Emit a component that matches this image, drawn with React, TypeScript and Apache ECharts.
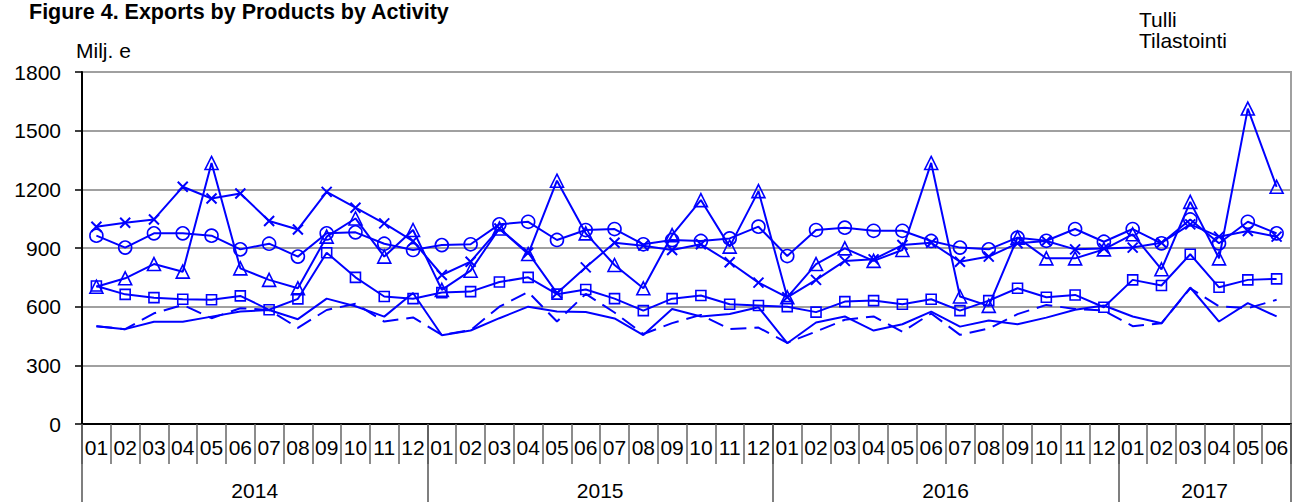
import React, { useEffect, useRef } from 'react';
import * as echarts from 'echarts';

const months = [
  '01','02','03','04','05','06','07','08','09','10','11','12',
  '01','02','03','04','05','06','07','08','09','10','11','12',
  '01','02','03','04','05','06','07','08','09','10','11','12',
  '01','02','03','04','05','06',
];
const years = ['2014', '2015', '2016', '2017'];
const yearSpans = [12, 12, 12, 6];
const yTicks = { min: 0, max: 1800, interval: 300 };

const triangleSeries = [702, 745, 818, 779, 1335, 796, 737, 694, 958, 1051, 856, 992,
  686, 784, 1000, 869, 1244, 975, 813, 694, 966, 1145, 907, 1191,
  648, 818, 898, 834, 890, 1335, 652, 604, 953, 847, 847, 893,
  970, 791, 1136, 847, 1613, 1213];
const circleSeries = [963, 902, 975, 975, 963, 893, 922, 856, 975, 980, 922, 890,
  915, 919, 1021, 1034, 941, 992, 997, 919, 941, 936, 949, 1009,
  859, 992, 1004, 988, 988, 936, 902, 893, 953, 937, 997, 932,
  997, 924, 1046, 924, 1034, 975];
const crossSeries = [1009, 1029, 1046, 1213, 1153, 1179, 1038, 995, 1187, 1106, 1026, 935,
  762, 830, 1000, 876, 669, 801, 927, 912, 890, 919, 827, 723,
  648, 737, 834, 842, 915, 927, 830, 856, 924, 936, 893, 898,
  902, 927, 1021, 958, 987, 958];
const squareSeries = [706, 663, 646, 638, 635, 655, 584, 640, 876, 750, 652, 641,
  672, 677, 726, 750, 664, 688, 641, 580, 641, 657, 612, 606,
  600, 572, 626, 631, 612, 638, 580, 631, 694, 648, 660, 597,
  737, 708, 868, 699, 737, 742];
const solidSeries = [500, 485, 523, 523, 549, 575, 583, 536, 641, 602, 549, 670,
  454, 478, 541, 600, 575, 573, 540, 455, 588, 550, 563, 597,
  413, 519, 550, 478, 510, 575, 498, 529, 510, 544, 584, 606,
  550, 515, 698, 524, 618, 550];
const dashedSeries = [500, 485, 566, 609, 541, 592, 583, 492, 583, 615, 524, 545,
  456, 480, 600, 675, 524, 665, 570, 460, 516, 558, 485, 493,
  415, 473, 533, 550, 472, 565, 456, 488, 562, 609, 588, 580,
  500, 515, 694, 602, 592, 635];

const BLUE = '#0000ff';
const FONT = '"Liberation Sans", Arial, Helvetica, sans-serif';

function buildYearAxis() {
  const total = yearSpans.reduce((a, b) => a + b, 0);
  const slots: string[] = Array.from({ length: total * 2 + 1 }, () => '');
  const bounds: number[] = [0];
  let acc = 0;
  years.forEach((y, i) => {
    slots[acc * 2 + yearSpans[i]] = y;
    acc += yearSpans[i];
    bounds.push(acc * 2);
  });
  return { slots, bounds };
}

export default function App() {
  const ref = useRef<HTMLDivElement>(null);
  useEffect(() => {
    if (!ref.current) return;
    const chart = echarts.init(ref.current, undefined, { renderer: 'svg' });
    const { slots, bounds } = buildYearAxis();
    const markerStyle = { color: 'rgba(0,0,0,0)', borderColor: BLUE, borderWidth: 1.6 };
    const baseLine = (name: string, data: number[], extra: any) => ({
      name,
      type: 'line',
      xAxisIndex: 0,
      data,
      showSymbol: true,
      showAllSymbol: true,
      lineStyle: { color: BLUE, width: 2 },
      itemStyle: markerStyle,
      emphasis: { disabled: true },
      ...extra,
    });
    chart.setOption({
      animation: false,
      grid: {
        left: 82, right: 4, top: 72, bottom: 79,
        show: true, borderColor: '#a0a0a0', borderWidth: 2, backgroundColor: 'transparent',
      },
      graphic: [
        { type: 'text', x: 29, y: 12, style: { text: 'Figure 4. Exports by Products by Activity', font: `bold 21.5px ${FONT}`, fill: '#000', verticalAlign: 'middle' } },
        { type: 'text', x: 76, y: 50, style: { text: 'Milj. e', font: `21px ${FONT}`, fill: '#000', verticalAlign: 'middle' } },
        { type: 'text', x: 1139, y: 19, style: { text: 'Tulli', font: `21px ${FONT}`, fill: '#000', verticalAlign: 'middle' } },
        { type: 'text', x: 1139, y: 40, style: { text: 'Tilastointi', font: `21px ${FONT}`, fill: '#000', verticalAlign: 'middle' } },
      ],
      xAxis: [
        {
          type: 'category',
          data: months,
          boundaryGap: true,
          position: 'bottom',
          axisLine: { show: true, lineStyle: { color: '#000', width: 2 } },
          axisTick: { show: true, interval: 0, length: 40, lineStyle: { color: '#666', width: 1.5 } },
          axisLabel: { interval: 0, margin: 13, fontSize: 21, fontFamily: FONT, color: '#000' },
          splitLine: { show: false },
        },
        {
          type: 'category',
          data: slots,
          boundaryGap: false,
          position: 'bottom',
          axisLine: { show: false },
          axisTick: {
            show: true, length: 78,
            interval: (idx: number) => bounds.includes(idx),
            lineStyle: { color: '#555', width: 1.5 },
          },
          axisLabel: {
            interval: (idx: number, val: string) => val !== '',
            margin: 56, fontSize: 21, fontFamily: FONT, color: '#000',
          },
          splitLine: { show: false },
        },
      ],
      yAxis: {
        type: 'value',
        min: yTicks.min, max: yTicks.max, interval: yTicks.interval,
        axisLine: { show: true, lineStyle: { color: '#000', width: 2 } },
        axisTick: { show: true, length: 7, lineStyle: { color: '#000', width: 1.5 } },
        axisLabel: { margin: 21, fontSize: 21, fontFamily: FONT, color: '#000', formatter: (v: number) => String(v) },
        splitLine: { show: true, lineStyle: { color: '#a0a0a0', width: 2 } },
      },
      series: [
        baseLine('Solid', solidSeries, { symbol: 'none' }),
        baseLine('Dashed', dashedSeries, { symbol: 'none', lineStyle: { color: BLUE, width: 2, type: [16, 8] } }),
        baseLine('Square', squareSeries, { symbol: 'rect', symbolSize: 10 }),
        baseLine('Cross', crossSeries, { symbol: 'path://M0 0L10 10M10 0L0 10', symbolSize: 10, itemStyle: { color: 'rgba(0,0,0,0)', borderColor: BLUE, borderWidth: 2 } }),
        baseLine('Circle', circleSeries, { symbol: 'circle', symbolSize: 13 }),
        baseLine('Triangle', triangleSeries, { symbol: 'triangle', symbolSize: [13, 13] }),
      ],
    });
    return () => chart.dispose();
  }, []);
  return <div ref={ref} style={{ position: 'absolute', left: 0, top: 0, width: 1295, height: 503 }} />;
}
